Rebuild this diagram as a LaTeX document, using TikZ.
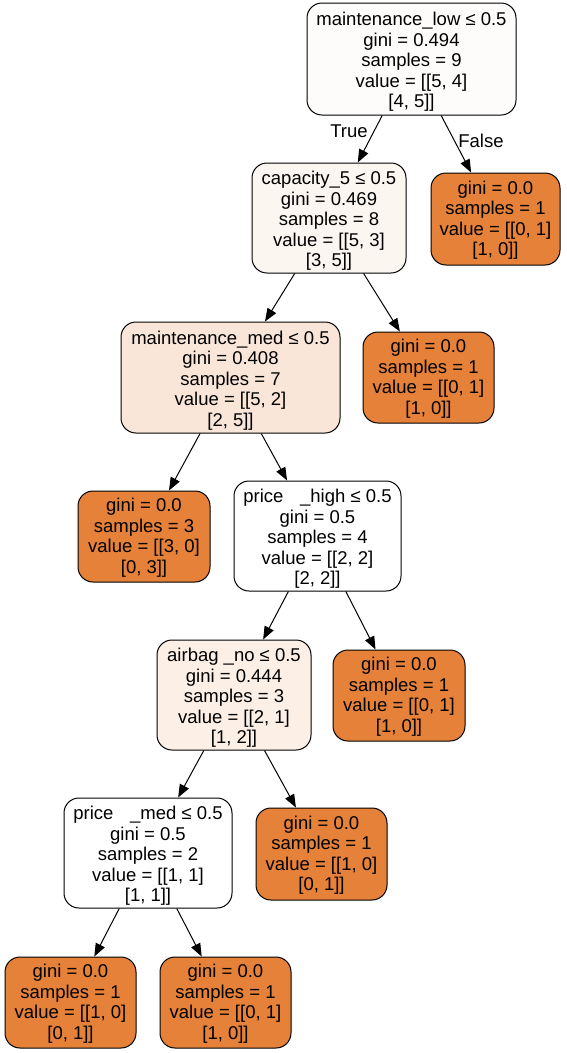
\documentclass[tikz,border=0pt]{standalone}
\usepackage{fontspec}
\setmainfont{Liberation Sans}
\usetikzlibrary{arrows.meta}
\definecolor{leaforange}{HTML}{E58139}
\definecolor{rootfill}{HTML}{FEFCFA}
\definecolor{capfill}{HTML}{FCF6F0}
\definecolor{medfill}{HTML}{FAE6D8}
\definecolor{airfill}{HTML}{FCEFE6}
% extra room above the first text line, lowering the text block a little
\newcommand{\splitpad}{\rule{0pt}{19.5pt}}
\newcommand{\leafpad}{\rule{0pt}{16pt}}
\tikzset{
  tree/.style={draw=black, line width=1pt, rounded corners=15pt, align=center,
    inner sep=0pt, font=\fontsize{18.5}{20.5}\selectfont},
  leaf/.style={tree, fill=leaforange},
  edge/.style={draw=black, line width=1pt, -{Triangle[length=13pt,width=10pt]}},
  edgelabel/.style={font=\fontsize{18.5}{20.5}\selectfont, inner sep=0pt}
}
\begin{document}
\begin{tikzpicture}[x=1pt,y=-1pt]
\useasboundingbox[fill=white] (0,0) rectangle (567,1053);

\node[tree, fill=rootfill, minimum width=209pt, minimum height=112pt] (root) at (411.5,59)
  {\splitpad maintenance\_low ≤ 0.5\\gini = 0.494\\samples = 9\\value = [[5, 4]\\{}[4, 5]]};
\node[tree, fill=capfill, minimum width=154pt, minimum height=110pt] (cap) at (329,218)
  {\splitpad capacity\_5 ≤ 0.5\\gini = 0.469\\samples = 8\\value = [[5, 3]\\{}[3, 5]]};
\node[leaf, minimum width=129pt, minimum height=92pt] (l1) at (495.5,219)
  {\leafpad gini = 0.0\\samples = 1\\value = [[0, 1]\\{}[1, 0]]};
\node[tree, fill=medfill, minimum width=219pt, minimum height=111pt] (med) at (230.5,377.5)
  {\splitpad maintenance\_med ≤ 0.5\\gini = 0.408\\samples = 7\\value = [[5, 2]\\{}[2, 5]]};
\node[leaf, minimum width=131pt, minimum height=91pt] (l2) at (428.5,377.5)
  {\leafpad gini = 0.0\\samples = 1\\value = [[0, 1]\\{}[1, 0]]};
\node[leaf, minimum width=132pt, minimum height=91pt] (l3) at (144,536.5)
  {\leafpad gini = 0.0\\samples = 3\\value = [[3, 0]\\{}[0, 3]]};
\node[tree, fill=white, minimum width=167pt, minimum height=110pt] (high) at (317.5,536)
  {\splitpad price\hspace{0.9em}\_high ≤ 0.5\\gini = 0.5\\samples = 4\\value = [[2, 2]\\{}[2, 2]]};
\node[tree, fill=airfill, minimum width=154pt, minimum height=110pt] (air) at (234,695)
  {\splitpad airbag \_no ≤ 0.5\\gini = 0.444\\samples = 3\\value = [[2, 1]\\{}[1, 2]]};
\node[leaf, minimum width=132pt, minimum height=91pt] (l4) at (399,695.5)
  {\leafpad gini = 0.0\\samples = 1\\value = [[0, 1]\\{}[1, 0]]};
\node[tree, fill=white, minimum width=168pt, minimum height=110pt] (pmed) at (148,853)
  {\splitpad price\hspace{0.9em}\_med ≤ 0.5\\gini = 0.5\\samples = 2\\value = [[1, 1]\\{}[1, 1]]};
\node[leaf, minimum width=131pt, minimum height=92pt] (l5) at (321.5,854)
  {\leafpad gini = 0.0\\samples = 1\\value = [[1, 0]\\{}[0, 1]]};
\node[leaf, minimum width=131pt, minimum height=91pt] (l6) at (70.5,1002.5)
  {\leafpad gini = 0.0\\samples = 1\\value = [[1, 0]\\{}[0, 1]]};
\node[leaf, minimum width=131pt, minimum height=91pt] (l7) at (225.5,1002.5)
  {\leafpad gini = 0.0\\samples = 1\\value = [[0, 1]\\{}[1, 0]]};

\draw[edge] (root) -- (cap);
\draw[edge] (root) -- (l1);
\draw[edge] (cap) -- (med);
\draw[edge] (cap) -- (l2);
\draw[edge] (med) -- (l3);
\draw[edge] (med) -- (high);
\draw[edge] (high) -- (air);
\draw[edge] (high) -- (l4);
\draw[edge] (air) -- (pmed);
\draw[edge] (air) -- (l5);
\draw[edge] (pmed) -- (l6);
\draw[edge] (pmed) -- (l7);

\node[edgelabel] (truelabel) at (349,131) {True};
\node[edgelabel] (falselabel) at (481,141) {False};
\end{tikzpicture}
\end{document}
